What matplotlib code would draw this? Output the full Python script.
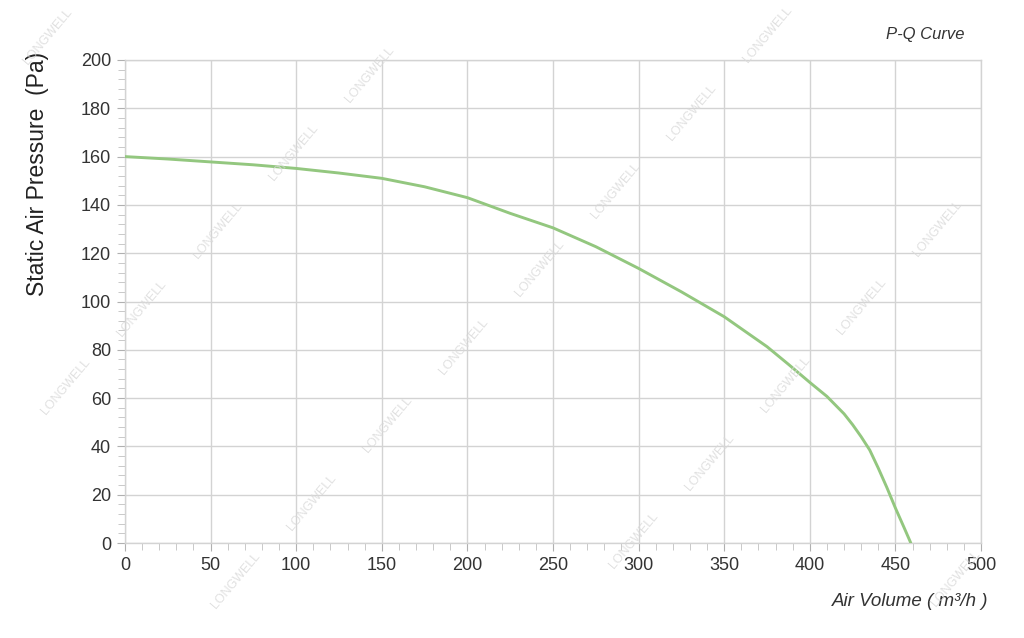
import matplotlib.pyplot as plt
from matplotlib.ticker import MultipleLocator

# P-Q curve
air_volume = [0, 25, 50, 75, 100, 125, 150, 175, 200, 225, 250, 275, 300,
              325, 350, 375, 387.5, 400, 410, 420, 425, 430, 435, 440, 445,
              450, 455, 459]
static_pressure = [160, 159, 157.8, 156.6, 155.1, 153.2, 151, 147.5, 143, 136.5,
                   130.5, 122.7, 113.7, 104, 93.7, 81.3, 74, 66.5, 60.7, 53.5,
                   49, 44, 38.5, 31, 23, 14.5, 6.5, 0]

x_ticks = [0, 50, 100, 150, 200, 250, 300, 350, 400, 450, 500]
y_ticks = [0, 20, 40, 60, 80, 100, 120, 140, 160, 180, 200]

plt.rcParams["font.family"] = ["Liberation Sans", "DejaVu Sans"]

W, H = 1024, 638
fig = plt.figure(figsize=(W / 100, H / 100), dpi=100)
ax = fig.add_axes([125 / W, 1 - 543 / H, (981 - 125) / W, (543 - 60) / H])

grid_c = "#d3d3d3"
ax.plot(air_volume, static_pressure, color="#93c77f", lw=2.1, zorder=3,
        solid_capstyle="round", solid_joinstyle="round")

ax.set_xlim(0, 500)
ax.set_ylim(0, 200)
ax.set_xticks(x_ticks)
ax.set_yticks(y_ticks)
ax.xaxis.set_minor_locator(MultipleLocator(10))
ax.yaxis.set_minor_locator(MultipleLocator(4))
ax.grid(True, which="major", color=grid_c, lw=1.0)
ax.set_axisbelow(True)
for s in ax.spines.values():
    s.set_color(grid_c)
    s.set_linewidth(1.0)
ax.tick_params(which="major", length=6, color="#b0b0b0", labelsize=13,
               labelcolor="#333333", pad=4)
ax.tick_params(which="minor", length=5, color="#c0c0c0")

fig.text(38 / W, 1 - 174 / H, "Static Air Pressure  (Pa)", rotation=90,
         ha="center", va="center", fontsize=16.5, color="#222222")
fig.text(925 / W, 1 - 35 / H, "P-Q Curve", style="italic", ha="center",
         va="center", fontsize=12, color="#333333")
fig.text(988 / W, 1 - 601 / H, "Air Volume ( m³/h )", style="italic", ha="right",
         va="center", fontsize=13.5, color="#333333")

# faint diagonal LONGWELL watermark lattice
for i in range(-4, 6):
    for j in range(-8, 10):
        px = 370 + i * 322 - j * 76
        py = 75 + i * 38 + j * 78
        if 30 < px < W - 30 and 30 < py < H - 30:
            fig.text(px / W, 1 - py / H, "LONGWELL", rotation=50, ha="center",
                     va="center", fontsize=9, color="#d9d9d9", alpha=0.8,
                     zorder=5)

fig.savefig("out.png", dpi=100)
